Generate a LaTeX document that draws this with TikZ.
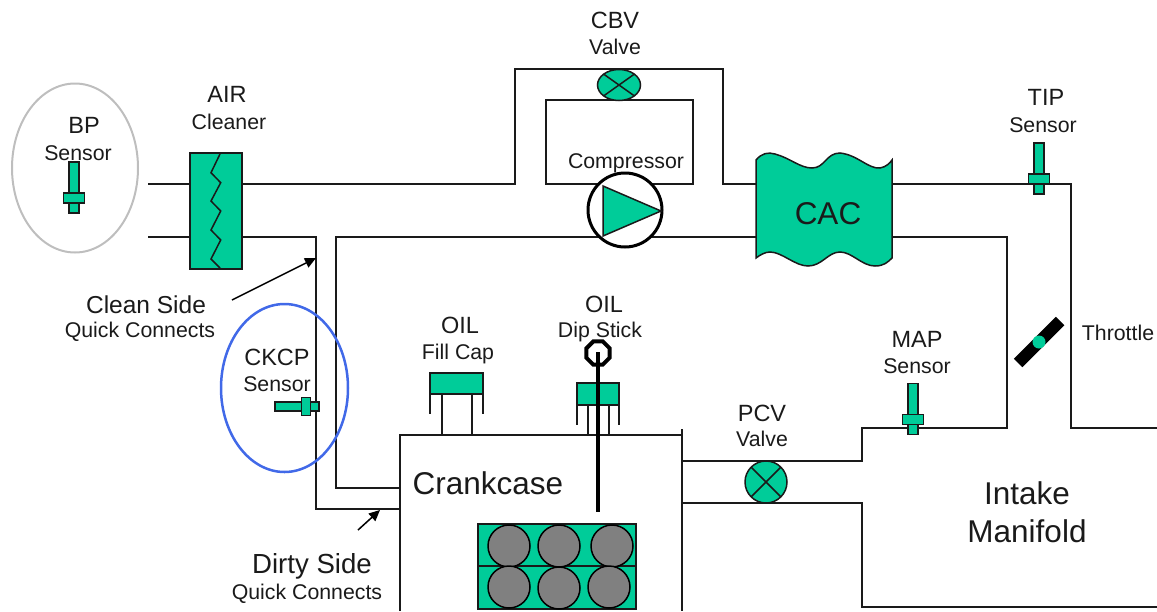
\documentclass[tikz,border=0pt]{standalone}
\usepackage{fontspec}
\setmainfont{Liberation Sans}
\usetikzlibrary{shapes.geometric,arrows.meta}
\definecolor{partgreen}{RGB}{0,204,153}
\definecolor{labelblack}{RGB}{26,26,26}
\definecolor{ringgray}{RGB}{190,190,190}
\definecolor{ringblue}{RGB}{65,105,232}
\tikzset{
  pipe/.style={draw=labelblack,line width=1.5pt,line join=miter},
  part/.style={draw=labelblack,fill=partgreen,line width=1.5pt},
  piston/.style={draw=black,fill=gray,line width=1.5pt},
  leader/.style={-{Triangle[length=11pt,width=10pt]},black,line width=1.5pt},
  toplbl/.style={inner sep=0pt,text=labelblack,font=\fontsize{23.5}{24}\selectfont},
  sidelbl/.style={inner sep=0pt,text=labelblack,font=\fontsize{24.5}{25}\selectfont},
  sublbl/.style={inner sep=0pt,text=labelblack,font=\fontsize{21.3}{22}\selectfont},
  biglbl/.style={inner sep=0pt,text=labelblack,font=\fontsize{31.5}{32}\selectfont},
  pics/sensor/.style={code={
    \draw[part] (-5,-36) rectangle (5,15);
    \draw[part] (-10.5,-5) rectangle (10.5,5);
  }},
}
\begin{document}
\begin{tikzpicture}[x=1pt,y=-1pt]
  \useasboundingbox (0,0) rectangle (1157,611);
  % rings round the two outside sensors
  \draw[ringgray,line width=2pt] (75,168) ellipse (63pt and 84.5pt);
  % air path, clean side
  \draw[pipe] (148,184) -- (190,184);
  \draw[pipe] (148,237) -- (190,237);
  \draw[pipe] (242,184) -- (515,184) -- (515,69) -- (723,69) -- (723,184) -- (756,184);
  \draw[pipe] (546,184) -- (546,100) -- (693,100) -- (693,184) -- cycle;
  \draw[pipe] (242,237) -- (316,237) -- (316,509) -- (400,509);
  \draw[pipe] (756,237) -- (336,237) -- (336,488) -- (400,488);
  \draw[pipe] (891,184) -- (1071,184) -- (1071,428) -- (1157,428);
  \draw[pipe] (891,237) -- (1007,237) -- (1007,428) -- (862,428) -- (862,461) -- (683,461);
  \draw[pipe] (683,503) -- (862,503) -- (862,607) -- (1157,607);
  % crankcase walls
  \draw[pipe] (400,611) -- (400,435) -- (682,435);
  \draw[pipe] (682,429) -- (682,611);
  \draw[ringblue,line width=2.5pt] (284.5,388) ellipse (63.5pt and 84pt);
  % air cleaner
  \draw[part] (190,153) rectangle (242,269);
  \draw[pipe] (220,154) -- (211,172.7) -- (220.7,182.7) -- (211,201) -- (220.7,211)
    -- (211,230) -- (220.7,240) -- (211,259) -- (220,268);
  % bypass valve
  \draw[part] (619,85) ellipse (21.5pt and 15.5pt);
  \draw[pipe] (603.5,74) -- (634.5,96);
  \draw[pipe] (603.5,96) -- (634.5,74);
  % compressor
  \draw[black,fill=white,line width=3pt] (625,210) circle (37pt);
  \draw[part] (603,186) -- (661,211) -- (603,236) -- cycle;
  % charge air cooler
  \draw[part] (756,160) .. controls (762,153) and (768,152) .. (775,154)
    .. controls (790,158) and (800,168) .. (812,168)
    .. controls (825,168) and (826,153) .. (840,153)
    .. controls (858,155) and (868,169) .. (880,168)
    .. controls (886,167) and (890,163) .. (892,160)
    -- (892,258) .. controls (888,262) and (884,266) .. (875,266)
    .. controls (862,266) and (852,252) .. (840,252)
    .. controls (828,252) and (822,266) .. (808,266)
    .. controls (795,266) and (782,252) .. (770,252)
    .. controls (765,252) and (760,255) .. (756,258) -- cycle;
  % sensors
  \pic at (74,198) {sensor};
  \pic at (1039,179) {sensor};
  \pic at (913,419.5) {sensor};
  \pic[rotate=90,scale=0.86] at (306,406.5) {sensor};
  % throttle plate
  \draw[black,line width=12pt] (1018,363) -- (1060,321);
  \fill[partgreen] (1039,342) circle (6.5pt);
  % oil fill cap
  \draw[pipe] (430,394) -- (430,414);
  \draw[pipe] (483,394) -- (483,414);
  \draw[pipe] (442,394) -- (442,435);
  \draw[pipe] (472,394) -- (472,435);
  \draw[part] (430,373) rectangle (483,394);
  % dip stick
  \draw[pipe] (577,405) -- (577,425);
  \draw[pipe] (619,405) -- (619,425);
  \draw[pipe] (588,405) -- (588,435);
  \draw[pipe] (609,405) -- (609,435);
  \draw[part] (577,383) rectangle (619,405);
  \draw[black,line width=3.5pt] (598,352) -- (598,512);
  \node[regular polygon,regular polygon sides=8,draw=black,line width=4pt,minimum size=25pt,inner sep=0pt] (dipcap) at (598,353) {};
  % pcv valve
  \draw[part] (766,482) circle (21pt);
  \draw[pipe] (751,467) -- (781,497);
  \draw[pipe] (751,497) -- (781,467);
  % engine block
  \draw[part] (478,524) rectangle (636,566);
  \draw[part] (478,566) rectangle (636,609);
  \foreach \x/\y in {509/546, 559/546, 612/546, 509/587, 559/588, 609/587} {
    \draw[piston] (\x,\y) circle (21pt);
  }
  % labels
  \node[toplbl] (cbvtop) at (615,20) {CBV};
  \node[sublbl] (cbvsub) at (615,47) {Valve};
  \node[toplbl] (airtop) at (227,94) {AIR};
  \node[sublbl] (airsub) at (229,122) {Cleaner};
  \node[toplbl] (bptop) at (84,125) {BP};
  \node[sublbl] (bpsub) at (78,153) {Sensor};
  \node[sublbl] (compressor) at (626,163) {Compressor};
  \node[biglbl] (cac) at (828,214) {CAC};
  \node[toplbl] (tiptop) at (1046,97) {TIP};
  \node[sublbl] (tipsub) at (1043,125) {Sensor};
  \node[toplbl] (maptop) at (917,339) {MAP};
  \node[sublbl] (mapsub) at (917,366) {Sensor};
  \node[sublbl] (throttle) at (1118,333) {Throttle};
  \node[toplbl] (filltop) at (460,325) {OIL};
  \node[sublbl] (fillsub) at (458,354) {Fill Cap};
  \node[toplbl] (diptop) at (604,304) {OIL};
  \node[sublbl] (dipsub) at (600,332) {Dip Stick};
  \node[toplbl] (pcvtop) at (762,413) {PCV};
  \node[sublbl] (pcvsub) at (762,439) {Valve};
  \node[biglbl] (crankcase) at (488,483) {Crankcase};
  \node[biglbl] (intake) at (1027,493) {Intake};
  \node[biglbl] (manifold) at (1027,531) {Manifold};
  \node[toplbl] (ckcptop) at (277,357) {CKCP};
  \node[sublbl] (ckcpsub) at (277,384) {Sensor};
  \node[sidelbl] (cleantop) at (146,305) {Clean Side};
  \node[sublbl] (cleansub) at (140,332) {Quick Connects};
  \node[sidelbl,font=\fontsize{27.6}{28}\selectfont] (dirtytop) at (312,566) {Dirty Side};
  \node[sublbl] (dirtysub) at (307,594) {Quick Connects};
  % leaders to the quick connects
  \coordinate (cleantip) at (316,258);
  \coordinate (cleanend) at (232,300);
  \coordinate (dirtytip) at (380,510);
  \coordinate (dirtyend) at (358,530);
  \draw[leader] (cleanend) -- (cleantip);
  \draw[leader] (dirtyend) -- (dirtytip);
\end{tikzpicture}
\end{document}
